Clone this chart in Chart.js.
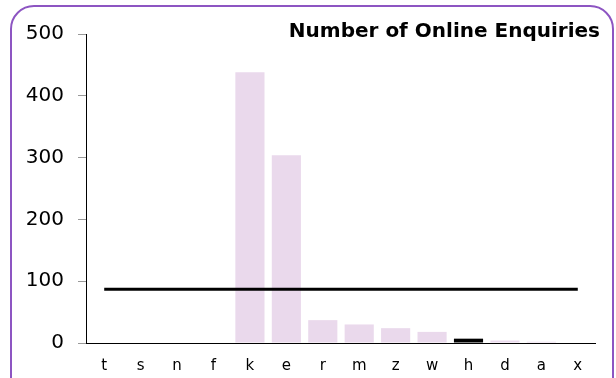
<!DOCTYPE html>
<html>
<head>
<meta charset="utf-8">
<script src="https://cdn.jsdelivr.net/npm/chart.js@4/dist/chart.umd.min.js"></script>
<style>
    body { margin: 0; background: #fff; }
    .frame {
        position: absolute;
        left: 10px;
        top: 5px;
        width: 604px;
        height: 400px;
        box-sizing: border-box;
        border: 2px solid #8d55c2;
        border-radius: 24px;
    }
    .chart-container {
        position: absolute;
        left: 0;
        top: 0;
        width: 616px;
        height: 378px;
    }
</style>
</head>
<body>
<div class="frame"></div>
<div class="chart-container"><canvas id="mainChart" width="616" height="378"></canvas></div>
<script>
// Enquiries per source
const categories = ['t', 's', 'n', 'f', 'k', 'e', 'r', 'm', 'z', 'w', 'h', 'd', 'a', 'x'];
const enquiries = [0, 0, 0, 0, 438, 304, 37, 30, 24, 18, 7, 4, 2, 0];
const averageLine = [87, 87, 87, 87, 87, 87, 87, 87, 87, 87, 87, 87, 87, 87];
const highlighted = 'h';
const yTicks = [0, 100, 200, 300, 400, 500];
const chartTitle = 'Number of Online Enquiries';

const FONT = "'DejaVu Sans', Verdana, sans-serif";

// Title sits inside the plot, top-right; x axis line spans the category range only
const framePlugin = {
    id: 'cornerTitle',
    afterDraw(chart) {
        const ctx = chart.ctx;
        const xScale = chart.scales.x;
        const yScale = chart.scales.y;
        const step = (xScale.getPixelForValue(1) - xScale.getPixelForValue(0));
        const left = xScale.getPixelForValue(0) - step / 2;
        const right = xScale.getPixelForValue(categories.length - 1) + step / 2;
        const bottom = Math.round(yScale.getPixelForValue(0)) + 0.5;
        ctx.save();
        ctx.strokeStyle = '#000';
        ctx.lineWidth = 1;
        ctx.beginPath();
        ctx.moveTo(left, bottom);
        ctx.lineTo(right, bottom);
        ctx.stroke();

        ctx.font = 'bold 20px ' + FONT;
        ctx.fillStyle = '#000';
        ctx.textAlign = 'right';
        ctx.textBaseline = 'alphabetic';
        ctx.fillText(chartTitle, right + 4, yScale.getPixelForValue(500) + 3);
        ctx.restore();
    }
};

function createChart() {
    const ctx = document.getElementById('mainChart').getContext('2d');
    const barColors = categories.map(c => c === highlighted ? '#000000' : '#ead9ec');

    new Chart(ctx, {
        type: 'bar',
        data: {
            labels: categories,
            datasets: [
                {
                    type: 'line',
                    data: averageLine,
                    borderColor: '#000',
                    borderWidth: 3,
                    pointRadius: 0,
                    tension: 0,
                    order: 0
                },
                {
                    type: 'bar',
                    data: enquiries,
                    backgroundColor: barColors,
                    borderWidth: 0,
                    categoryPercentage: 1,
                    barPercentage: 0.8,
                    order: 1
                }
            ]
        },
        options: {
            responsive: false,
            animation: false,
            layout: {
                padding: { top: 34, right: 20, bottom: 0, left: 0 }
            },
            plugins: {
                legend: { display: false },
                tooltip: { enabled: false },
                title: { display: false }
            },
            scales: {
                x: {
                    grid: { display: false },
                    border: { display: false },
                    ticks: {
                        color: '#000',
                        padding: 6,
                        font: { family: FONT, size: 15 }
                    },
                    afterFit(scale) { scale.height = 35; }
                },
                y: {
                    min: 0,
                    max: 500,
                    afterBuildTicks(scale) {
                        scale.ticks = yTicks.map(v => ({ value: v }));
                    },
                    grid: {
                        drawOnChartArea: false,
                        color: '#999',
                        tickLength: 8
                    },
                    border: { display: true, color: '#000', width: 1 },
                    ticks: {
                        color: '#000',
                        padding: 14,
                        font: { family: FONT, size: 20 }
                    },
                    afterFit(scale) { scale.width = 86; }
                }
            }
        },
        plugins: [framePlugin]
    });
}

document.addEventListener('DOMContentLoaded', createChart);
</script>
</body>
</html>
